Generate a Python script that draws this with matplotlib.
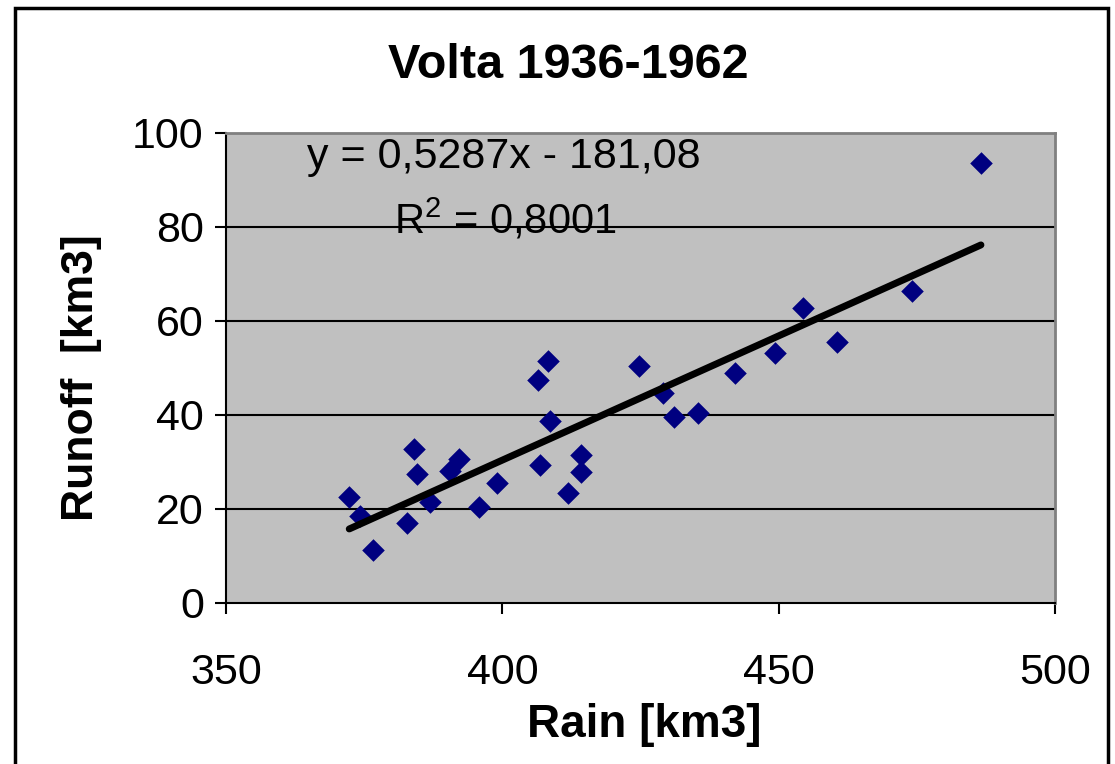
import matplotlib
matplotlib.use("Agg")
import matplotlib.pyplot as plt
import numpy as np

plt.rcParams['font.family'] = ['Liberation Sans', 'DejaVu Sans']
plt.rcParams['mathtext.fontset'] = 'custom'
plt.rcParams['mathtext.rm'] = 'Liberation Sans'
plt.rcParams['mathtext.it'] = 'Liberation Sans'

title = "Volta 1936-1962"
x_label = "Rain [km3]"
y_label = "Runoff  [km3]"

rain = [372.3, 374.2, 376.6, 382.7, 384.0, 384.6, 386.9, 390.5, 392.2, 395.8,
        399.0, 406.4, 408.3, 406.8, 408.6, 411.9, 414.2, 414.2, 424.7, 429.1,
        431.1, 435.4, 442.1, 449.3, 454.4, 460.5, 474.1, 486.6]
runoff = [22.6, 18.5, 11.3, 17.0, 32.8, 27.4, 21.5, 28.1, 30.6, 20.4,
          25.5, 47.4, 51.5, 29.4, 38.7, 23.4, 31.5, 27.9, 50.4, 44.7,
          39.6, 40.4, 48.9, 53.2, 62.8, 55.5, 66.4, 93.6]

slope = 0.5287
intercept = -181.08
r2 = 0.8001

x_ticks = [350, 400, 450, 500]
y_ticks = [0, 20, 40, 60, 80, 100]

fig = plt.figure(figsize=(11.15, 7.64), dpi=100)
ax = fig.add_axes([226/1115, 1-603/764, (1055-226)/1115, (603-133)/764])
ax.set_facecolor('#C0C0C0')
ax.set_xlim(350, 500)
ax.set_ylim(0, 100)

for yv in y_ticks[1:-1]:
    ax.axhline(yv, color='black', lw=1.5, zorder=1)

ax.scatter(rain, runoff, marker='D', s=11.5**2, color='#000080', zorder=3, linewidths=0)

xs = np.array([min(rain), max(rain)])
ax.plot(xs, slope*xs + intercept, color='black', lw=5, solid_capstyle='round', zorder=4)

ax.text(400.3, 94.9, "y = 0,5287x - 181,08", fontsize=31, ha='center', va='center', zorder=5)
ax.text(400.5, 81.5, r"R$^{2}$ = 0,8001", fontsize=30, ha='center', va='center', zorder=5)

ax.set_xticks(x_ticks)
ax.set_yticks(y_ticks)
ax.tick_params(axis='both', direction='out', length=8, width=1.5, labelsize=31, color='black')
ax.tick_params(axis='x', pad=28)
ax.tick_params(axis='y', pad=8)

for s in ['top', 'right']:
    ax.spines[s].set_color('#808080')
    ax.spines[s].set_linewidth(2)
for s in ['bottom', 'left']:
    ax.spines[s].set_color('black')
    ax.spines[s].set_linewidth(1.5)

ax.set_xlabel(x_label, fontsize=33, fontweight='bold', va='center')
ax.xaxis.set_label_coords((644-226)/829, -(725-603)/470)
ax.set_ylabel(y_label, fontsize=32, fontweight='bold', va='center')
ax.yaxis.set_label_coords((82-226)/829, (603-378)/470)
fig.text(568/1115, 1-65/764, title, fontsize=35, fontweight='bold', ha='center', va='center')

border = plt.Rectangle((15/1115, -0.05), (1108-15)/1115, 1.05-8/764, transform=fig.transFigure,
                       fill=False, edgecolor='black', lw=2.5)
fig.add_artist(border)

fig.savefig("out.png", dpi=100)
